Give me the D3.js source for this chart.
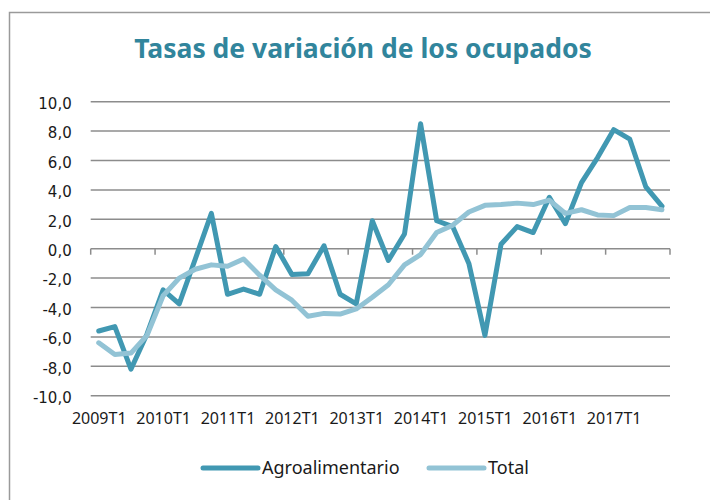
<!DOCTYPE html>
<meta charset="utf-8">
<style>
  body { margin: 0; background: #fff; }
  svg { display: block; }
  .grid line { stroke: #8c8c8c; stroke-width: 1.5; }
  .ylab text { font-family: "DejaVu Sans", sans-serif; font-size: 15px; fill: #1a1a1a; }
  .xlab text { font-family: "Noto Sans", sans-serif; font-size: 16px; fill: #1a1a1a; }
  .legend text { font-family: "Noto Sans", sans-serif; font-size: 18px; fill: #1a1a1a; }
  .title { font-family: "Noto Sans", sans-serif; font-weight: bold; font-size: 26.5px; fill: #31859c; }
  .series { fill: none; stroke-width: 5; stroke-linejoin: round; stroke-linecap: round; }
</style>
<body>
</body>
<script src="https://cdn.jsdelivr.net/npm/d3@7"></script>
<script>
  const years = [2009, 2010, 2011, 2012, 2013, 2014, 2015, 2016, 2017];
  const quarters = years.flatMap(y => [1, 2, 3, 4].map(q => `${y}T${q}`));

  const agro = [
    -5.6, -5.3, -8.2, -5.8, -2.8, -3.75, -0.7, 2.4,
    -3.1, -2.75, -3.1, 0.15, -1.75, -1.7, 0.2, -3.1,
    -3.75, 1.9, -0.8, 1.0, 8.5, 1.9, 1.5, -1.0,
    -5.9, 0.3, 1.5, 1.1, 3.5, 1.7, 4.5, 6.2,
    8.1, 7.45, 4.2, 2.9
  ];
  const total = [
    -6.4, -7.2, -7.1, -5.9, -3.2, -2.0, -1.4, -1.1,
    -1.2, -0.7, -1.8, -2.8, -3.5, -4.6, -4.4, -4.45,
    -4.1, -3.3, -2.45, -1.1, -0.4, 1.1, 1.6, 2.5,
    2.95, 3.0, 3.1, 3.0, 3.3, 2.4, 2.65, 2.3,
    2.25, 2.8, 2.8, 2.65
  ];
  const yTicks = [-10, -8, -6, -4, -2, 0, 2, 4, 6, 8, 10];

  const series = [
    {name: 'Agroalimentario', values: agro, color: '#4198b2'},
    {name: 'Total', values: total, color: '#92c3d5'}
  ];

  const w = 710, h = 500;
  const l = 90.7, r = 670, t = 101.7, b = 395.7;

  const svg = d3.select('body').append('svg')
    .attr('width', w)
    .attr('height', h);

  // outer frame of the chart
  svg.append('rect')
    .attr('x', 9.5).attr('y', 12.5)
    .attr('width', 800).attr('height', 600)
    .attr('fill', 'none')
    .attr('stroke', '#9a9a9a')
    .attr('stroke-width', 1.5);

  svg.append('text')
    .attr('class', 'title')
    .attr('x', 363).attr('y', 58)
    .attr('text-anchor', 'middle')
    .text('Tasas de variación de los ocupados');

  const x = d3.scalePoint().domain(quarters).range([l, r]).padding(0.5);
  const y = d3.scaleLinear().domain([-10, 10]).range([b, t]);
  const step = x.step();

  const locale = d3.formatLocale({decimal: ',', thousands: '.', grouping: [3], currency: ['', '€'], minus: '-'});
  const fmt = locale.format('.1f');

  // gridlines
  svg.append('g').attr('class', 'grid')
    .selectAll('line')
    .data(yTicks.filter(d => d !== 0))
    .join('line')
    .attr('x1', l).attr('x2', r)
    .attr('y1', d => y(d)).attr('y2', d => y(d));

  // y labels
  svg.append('g').attr('class', 'ylab')
    .attr('transform', `translate(${l}, 0)`)
    .call(d3.axisLeft(y).tickValues(yTicks).tickFormat(fmt).tickSize(0).tickPadding(19))
    .call(g => g.select('.domain').remove())
    .call(g => g.selectAll('text').attr('dy', '0.45em'));

  // category axis at zero
  const boundaries = quarters.filter((d, i) => i % 4 === 0).map(d => x(d) - step / 2).concat([r]);
  const ax = svg.append('g').attr('class', 'grid');
  ax.append('line')
    .attr('x1', l).attr('x2', r)
    .attr('y1', y(0)).attr('y2', y(0));
  ax.selectAll('line.tick')
    .data(boundaries)
    .join('line')
    .attr('class', 'tick')
    .attr('x1', d => d).attr('x2', d => d)
    .attr('y1', y(0)).attr('y2', y(0) + 6);

  // category labels at the bottom
  svg.append('g').attr('class', 'xlab')
    .attr('transform', `translate(0, ${b})`)
    .call(d3.axisBottom(x).tickValues(quarters.filter(d => d.endsWith('T1'))).tickSize(0).tickPadding(17))
    .call(g => g.select('.domain').remove());

  const line = d3.line()
    .x((d, i) => x(quarters[i]))
    .y(d => y(d));

  svg.append('g')
    .selectAll('path')
    .data(series)
    .join('path')
    .attr('class', 'series')
    .attr('stroke', d => d.color)
    .attr('d', d => line(d.values));

  // legend
  const legendPos = [203, 429];
  const lg = svg.append('g').attr('class', 'legend')
    .selectAll('g')
    .data(series)
    .join('g')
    .attr('transform', (d, i) => `translate(${legendPos[i]}, 468)`);
  lg.append('line')
    .attr('x1', 0).attr('x2', 55)
    .attr('stroke', d => d.color)
    .attr('stroke-width', 5)
    .attr('stroke-linecap', 'round');
  lg.append('text')
    .attr('x', 59).attr('dy', '0.35em')
    .text(d => d.name);
</script>
